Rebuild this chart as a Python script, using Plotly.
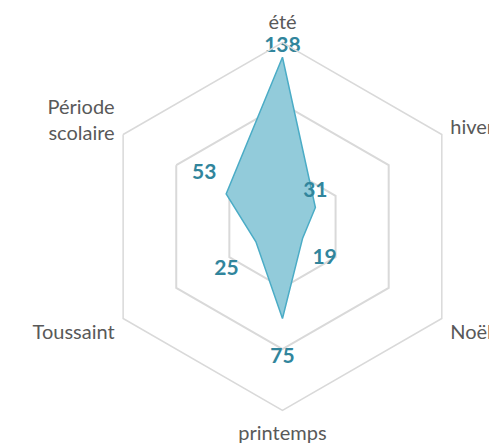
import plotly.graph_objects as go

categories = ["été", "hiver", "Noël", "printemps", "Toussaint", "Période<br>scolaire"]
values = [138, 31, 19, 75, 25, 53]

# label placement styling (not data)
label_positions = ["top center", "top center", "bottom right", "bottom center", "bottom left", "top left"]
label_offset_sizes = [0, 6, 14, 45, 26, 14]

r_closed = values + values[:1]
t_closed = categories + categories[:1]

fig = go.Figure()
fig.add_trace(go.Scatterpolar(
    r=r_closed, theta=t_closed, mode="lines", fill="toself",
    fillcolor="rgb(146,203,218)",
    line=dict(color="#4BACC6", width=1.5),
    hoverinfo="skip", showlegend=False,
))
fig.add_trace(go.Scatterpolar(
    r=values, theta=categories, mode="markers+text",
    marker=dict(size=label_offset_sizes, opacity=0, color="rgba(0,0,0,0)"),
    text=[str(v) for v in values], textposition=label_positions,
    textfont=dict(family="Lato, sans-serif", size=21, color="#31859C", weight="bold"),
    hoverinfo="skip", showlegend=False,
))

fig.update_layout(
    width=497, height=448,
    margin=dict(l=0, r=0, t=0, b=0),
    paper_bgcolor="white",
    plot_bgcolor="white",
    font=dict(family="Lato, sans-serif", size=20, color="#595959"),
    polar=dict(
        domain=dict(x=[0.182, 0.9225], y=[0.1016, 0.923]),
        bgcolor="white",
        gridshape="linear",
        radialaxis=dict(range=[0, 150], dtick=50, showticklabels=False, ticks="",
                        showline=False, gridcolor="#D9D9D9", gridwidth=1.5),
        angularaxis=dict(rotation=90, direction="clockwise", showgrid=False,
                         showline=True, linecolor="#D9D9D9", linewidth=1.5,
                         ticks="outside", ticklen=5, tickcolor="rgba(0,0,0,0)",
                         tickfont=dict(size=20, color="#595959")),
    ),
)

fig.write_html("out.html")
